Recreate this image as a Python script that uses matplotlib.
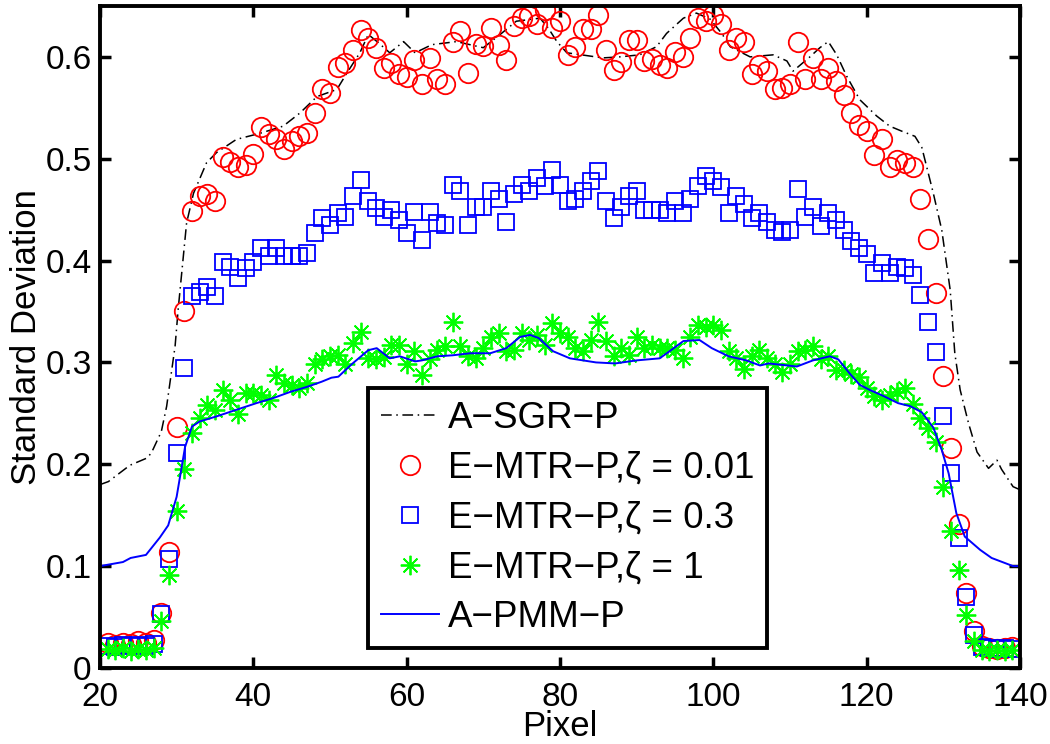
import matplotlib
matplotlib.use("Agg")
import matplotlib.pyplot as plt
import numpy as np

plt.rcParams["font.family"] = ["Liberation Sans", "DejaVu Sans"]

# pixel index shared by the three marker series
PIXELS = list(range(21, 140))

RED_001 = [
    0.025, 0.023, 0.025, 0.024, 0.026, 0.025, 0.027,
    0.054, 0.114, 0.237, 0.350, 0.449, 0.463, 0.465, 0.458,
    0.502, 0.497, 0.492, 0.494, 0.505, 0.531, 0.524, 0.519, 0.510, 0.517,
    0.522, 0.525, 0.545, 0.568, 0.565, 0.590, 0.594, 0.607, 0.626, 0.619,
    0.609, 0.589, 0.594, 0.583, 0.580, 0.597, 0.573, 0.599, 0.578, 0.573,
    0.615, 0.625, 0.584, 0.613, 0.611, 0.628, 0.612, 0.597, 0.630, 0.638,
    0.640, 0.632, 0.646, 0.628, 0.635, 0.602, 0.610, 0.627, 0.627, 0.641,
    0.607, 0.587, 0.595, 0.617, 0.617, 0.596, 0.598, 0.592, 0.589, 0.605,
    0.600, 0.619, 0.638, 0.635, 0.641, 0.632, 0.607, 0.619, 0.615, 0.583,
    0.592, 0.586, 0.568, 0.569, 0.573, 0.615, 0.578, 0.599, 0.578, 0.589,
    0.576, 0.563, 0.545, 0.533, 0.527, 0.504, 0.519, 0.492, 0.499, 0.496,
    0.492, 0.460, 0.421, 0.368, 0.287, 0.216, 0.141, 0.074, 0.036,
    0.022, 0.020, 0.019, 0.020, 0.021,
]

BLUE_03 = [
    0.022, 0.021, 0.023, 0.022, 0.023, 0.022, 0.024,
    0.053, 0.107, 0.211, 0.295, 0.365, 0.369, 0.374, 0.365,
    0.399, 0.394, 0.383, 0.393, 0.399, 0.412, 0.404, 0.412, 0.404, 0.404,
    0.404, 0.407, 0.427, 0.442, 0.435, 0.447, 0.443, 0.463, 0.479, 0.458,
    0.452, 0.443, 0.450, 0.440, 0.427, 0.448, 0.420, 0.448, 0.437, 0.435,
    0.474, 0.468, 0.435, 0.453, 0.453, 0.468, 0.460, 0.438, 0.465, 0.474,
    0.468, 0.481, 0.473, 0.489, 0.474, 0.458, 0.460, 0.468, 0.478, 0.488,
    0.458, 0.442, 0.453, 0.463, 0.468, 0.450, 0.450, 0.450, 0.447, 0.458,
    0.447, 0.460, 0.473, 0.483, 0.478, 0.472, 0.447, 0.463, 0.456, 0.442,
    0.447, 0.438, 0.430, 0.428, 0.430, 0.470, 0.443, 0.453, 0.434, 0.447,
    0.440, 0.430, 0.419, 0.412, 0.406, 0.388, 0.398, 0.388, 0.394, 0.393,
    0.386, 0.366, 0.340, 0.310, 0.247, 0.191, 0.128, 0.070, 0.032,
    0.021, 0.020, 0.019, 0.020, 0.019,
]

GREEN_1 = [
    0.019, 0.018, 0.020, 0.017, 0.019, 0.018, 0.020,
    0.046, 0.091, 0.154, 0.195, 0.231, 0.245, 0.258, 0.253,
    0.273, 0.263, 0.249, 0.270, 0.270, 0.268, 0.263, 0.288, 0.280, 0.278,
    0.275, 0.280, 0.298, 0.303, 0.306, 0.307, 0.298, 0.319, 0.330, 0.304,
    0.303, 0.305, 0.317, 0.317, 0.298, 0.311, 0.288, 0.303, 0.312, 0.316,
    0.340, 0.316, 0.306, 0.304, 0.314, 0.325, 0.329, 0.311, 0.312, 0.329,
    0.322, 0.327, 0.317, 0.339, 0.329, 0.325, 0.314, 0.311, 0.322, 0.340,
    0.321, 0.306, 0.314, 0.307, 0.325, 0.314, 0.317, 0.314, 0.314, 0.312,
    0.304, 0.325, 0.337, 0.335, 0.337, 0.332, 0.311, 0.304, 0.294, 0.306,
    0.312, 0.304, 0.298, 0.291, 0.298, 0.311, 0.312, 0.316, 0.303, 0.306,
    0.293, 0.293, 0.289, 0.286, 0.275, 0.267, 0.263, 0.268, 0.271, 0.275,
    0.259, 0.245, 0.236, 0.222, 0.178, 0.134, 0.096, 0.052, 0.026,
    0.018, 0.017, 0.018, 0.017, 0.018,
]

# A-SGR-P curve (dash-dot), read as vertices
SGR_X = [20, 21.1, 23.9, 26.1, 26.7, 28.0, 28.7, 29.8, 30.2, 31.3, 32.2, 33.9,
         35.2, 37.8, 40.9, 43.9, 46.1, 48.3, 50.9, 52.2, 53.9, 55.0, 56.3, 57.8,
         59.6, 61.1, 63.3, 66.5, 70.0, 72.2, 74.3, 77.4, 78.5, 79.6, 80.9, 82.8,
         85.6, 87.8, 90.4, 92.6, 93.9, 96.1, 97.8, 99.6, 101.1, 102.2, 104.8,
         107.8, 109.6, 110.4, 112.6, 113.9, 115.0, 116.1, 117.4, 119.1, 121.3,
         123.0, 124.6, 126.3, 127.2, 128.7, 129.8, 130.9, 131.5, 132.2, 133.3,
         134.4, 135.9, 137.0, 137.6, 139.1, 140]
SGR_Y = [0.180, 0.183, 0.199, 0.206, 0.211, 0.232, 0.257, 0.316, 0.352, 0.437,
         0.466, 0.496, 0.506, 0.519, 0.525, 0.532, 0.545, 0.561, 0.568, 0.584,
         0.604, 0.622, 0.614, 0.604, 0.615, 0.604, 0.612, 0.615, 0.609, 0.622,
         0.635, 0.638, 0.628, 0.615, 0.604, 0.602, 0.599, 0.600, 0.602, 0.610,
         0.623, 0.638, 0.643, 0.637, 0.623, 0.610, 0.600, 0.602, 0.596, 0.586,
         0.600, 0.609, 0.615, 0.602, 0.581, 0.558, 0.542, 0.532, 0.527, 0.522,
         0.511, 0.466, 0.430, 0.371, 0.309, 0.273, 0.240, 0.212, 0.196, 0.204,
         0.195, 0.178, 0.175]

# A-PMM-P curve (solid blue)
PMM_X = [20, 23, 24, 26, 27.8, 28.9, 30, 31.1, 32, 33, 35.2, 37.6, 40.4, 42.6,
         44.8, 47, 48.9, 50.2, 51.1, 52.8, 55, 56.1, 57.8, 59.1, 61.1, 62, 64,
         66, 68.3, 70.9, 73, 74.8, 76.1, 77.2, 79.1, 81.3, 84.7, 87.2, 90, 93,
         94.3, 96.1, 98.2, 99.8, 102, 104.3, 106.1, 107.2, 110.9, 113, 115.2,
         116.3, 117.8, 119.1, 120.4, 122.2, 124.1, 125.7, 127.2, 128.7, 129.8,
         130.7, 131.7, 132.8, 134.8, 136.3, 139.1, 140]
PMM_Y = [0.100, 0.104, 0.108, 0.111, 0.128, 0.140, 0.168, 0.217, 0.237, 0.242,
         0.247, 0.253, 0.260, 0.265, 0.271, 0.276, 0.281, 0.285, 0.286, 0.298,
         0.312, 0.314, 0.304, 0.306, 0.301, 0.302, 0.306, 0.307, 0.309, 0.309,
         0.314, 0.325, 0.327, 0.324, 0.311, 0.304, 0.300, 0.299, 0.302, 0.304,
         0.311, 0.321, 0.322, 0.314, 0.306, 0.302, 0.297, 0.299, 0.296, 0.302,
         0.306, 0.303, 0.289, 0.278, 0.273, 0.267, 0.260, 0.257, 0.251, 0.236,
         0.214, 0.191, 0.152, 0.129, 0.116, 0.108, 0.100, 0.100]

X_TICKS = [20, 40, 60, 80, 100, 120, 140]
Y_TICKS = [0, 0.1, 0.2, 0.3, 0.4, 0.5, 0.6]
Y_TICK_LABELS = ["0", "0.1", "0.2", "0.3", "0.4", "0.5", "0.6"]

fig = plt.figure(figsize=(10.5, 7.44), dpi=100)
ax = fig.add_axes([0.0952, 0.1022, 0.8762, 0.8898])

ax.plot(SGR_X, SGR_Y, color="black", lw=1.1, ls=(0, (7, 3, 1, 3)),
        label="A\u2212SGR\u2212P")
ax.plot(PIXELS, RED_001, ls="none", marker="o", ms=14, mfc="none",
        mec="#ff0000", mew=1.3, label="E\u2212MTR\u2212P,\u03b6 = 0.01")
ax.plot(PIXELS, BLUE_03, ls="none", marker="s", ms=11, mfc="none",
        mec="#0000ff", mew=1.3, label="E\u2212MTR\u2212P,\u03b6 = 0.3")
ax.plot(PIXELS, GREEN_1, ls="none", marker=(8, 2, 0), ms=14,
        mec="#00ff00", mew=1.3, label="E\u2212MTR\u2212P,\u03b6 = 1")
ax.plot(PMM_X, PMM_Y, color="#0000ff", lw=1.4, label="A\u2212PMM\u2212P")

ax.set_xlim(20, 140)
ax.set_ylim(0, 0.65)
ax.set_xticks(X_TICKS)
ax.set_yticks(Y_TICKS)
ax.set_yticklabels(Y_TICK_LABELS)
ax.tick_params(direction="in", length=8, width=2.5, labelsize=24,
               top=True, right=True)
ax.tick_params(axis="x", pad=10)
ax.tick_params(axis="y", pad=6)
for s in ax.spines.values():
    s.set_linewidth(2.8)

ax.set_xlabel("Pixel", fontsize=25, labelpad=-2)
ax.set_ylabel("Standard Deviation", fontsize=25, labelpad=2)

leg = ax.legend(loc="lower left", bbox_to_anchor=(0.291, 0.030),
                fontsize=26.5, frameon=True, fancybox=False, framealpha=1,
                edgecolor="black", handlelength=1.6, handletextpad=0.22,
                labelspacing=0.40, borderpad=0.35, borderaxespad=0)
leg.get_frame().set_linewidth(2.8)

fig.savefig("out.png", dpi=100)
